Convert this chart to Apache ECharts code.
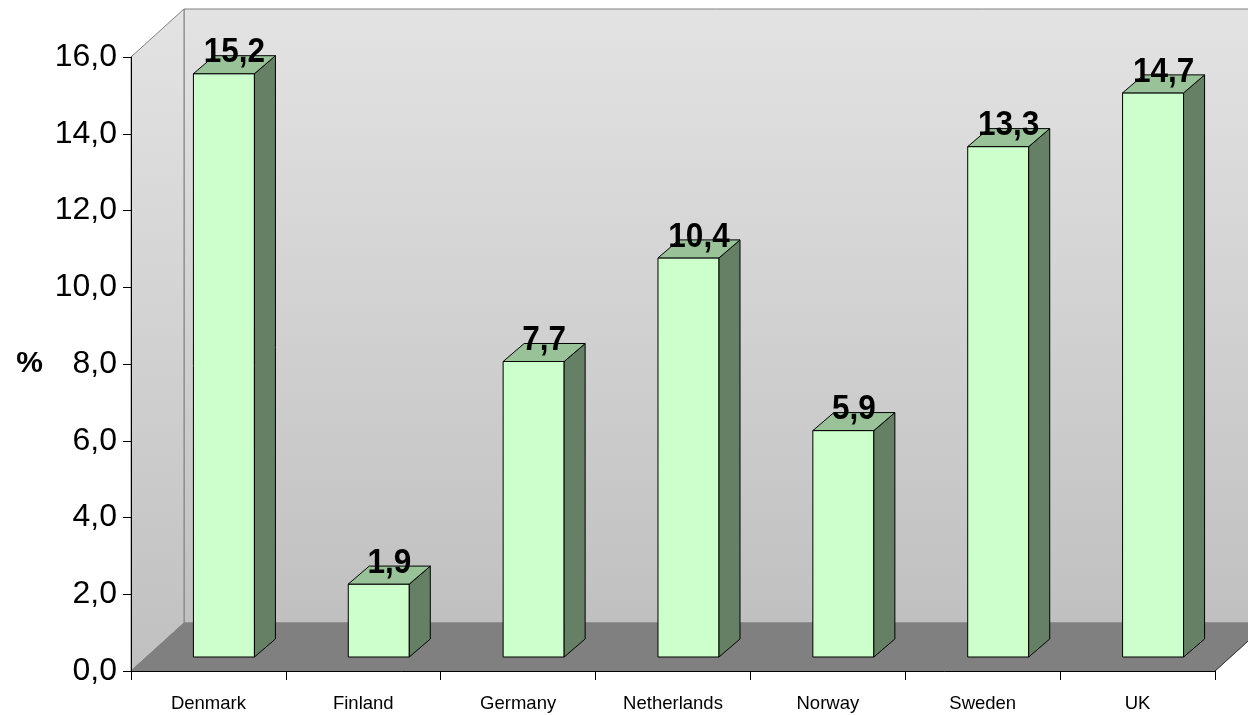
<!DOCTYPE html>
<html>
<head>
<meta charset="utf-8">
<script src="https://cdn.jsdelivr.net/npm/echarts@6/dist/echarts.min.js"></script>
<style>
html,body{margin:0;padding:0;background:#ffffff;}
#chart{width:1248px;height:715px;}
</style>
</head>
<body>
<div id="chart"></div>
<script>
// ---- data ----
const categories = ['Denmark', 'Finland', 'Germany', 'Netherlands', 'Norway', 'Sweden', 'UK'];
const values = [15.2, 1.9, 7.7, 10.4, 5.9, 13.3, 14.7];
const yTicks = { min: 0, max: 16, interval: 2 };
const axisName = '%';

const FONT = '"Liberation Sans", Arial, sans-serif';
const fmt = v => v.toFixed(1).replace('.', ',');

// 3D geometry (pixels)
const DEPTH = [53, -48];      // plot depth offset
const BAR_OFF = [15.5, -14];  // bar front plane offset from plot front
const BAR_DEPTH = [21, -18];  // bar depth
const BAR_W = 0.394;          // fraction of category band

const chart = echarts.init(document.getElementById('chart'), null, { renderer: 'canvas' });

function renderWalls(params, api) {
  const cs = params.coordSys;
  const x0 = cs.x, x1 = cs.x + cs.width, yT = cs.y, yB = cs.y + cs.height;
  const dx = DEPTH[0], dy = DEPTH[1];
  const grad = {
    type: 'linear', x: 0, y: 0, x2: 0, y2: 1,
    colorStops: [{ offset: 0, color: '#e3e3e3' }, { offset: 1, color: '#c0c0c0' }]
  };
  return {
    type: 'group',
    children: [
      { type: 'rect', shape: { x: x0 + dx, y: yT + dy, width: cs.width, height: cs.height },
        style: { fill: grad, stroke: '#808080', lineWidth: 1 } },
      { type: 'polygon', shape: { points: [[x0, yT], [x0 + dx, yT + dy], [x0 + dx, yB + dy], [x0, yB]] },
        style: { fill: grad, stroke: '#808080', lineWidth: 1 } },
      { type: 'polygon', shape: { points: [[x0, yB], [x0 + dx, yB + dy], [x1 + dx, yB + dy], [x1, yB]] },
        style: { fill: '#808080', stroke: '#808080', lineWidth: 1 } },
      { type: 'line', shape: { x1: x1, y1: yB, x2: x1 + dx, y2: yB + dy },
        style: { stroke: '#303030', lineWidth: 1 } }
    ]
  };
}

function renderBar(params, api) {
  const i = api.value(0), v = api.value(1);
  const base = api.coord([i, 0]);
  const top = api.coord([i, v]);
  const band = api.size([1, 0])[0];
  const w = band * BAR_W;
  const cx = base[0] + BAR_OFF[0];
  const xl = cx - w / 2, xr = cx + w / 2;
  const yb = base[1] + BAR_OFF[1], yt = top[1] + BAR_OFF[1];
  const bx = BAR_DEPTH[0], by = BAR_DEPTH[1];
  const edge = { stroke: '#000000', lineWidth: 1 };
  return {
    type: 'group',
    children: [
      { type: 'polygon', shape: { points: [[xl, yt], [xr, yt], [xr, yb], [xl, yb]] },
        style: Object.assign({ fill: '#ccffcc' }, edge) },
      { type: 'polygon', shape: { points: [[xr, yt], [xr + bx, yt + by], [xr + bx, yb + by], [xr, yb]] },
        style: Object.assign({ fill: '#668066' }, edge) },
      { type: 'polygon', shape: { points: [[xl, yt], [xr, yt], [xr + bx, yt + by], [xl + bx, yt + by]] },
        style: Object.assign({ fill: '#99c299' }, edge) },
      { type: 'text', x: cx + bx / 2, y: yt + by / 2 - 12, scaleX: 0.9,
        style: { text: fmt(v), x: 0, y: 0, align: 'center', verticalAlign: 'middle',
                 fill: '#000000', font: 'bold 35px ' + FONT } }
    ]
  };
}

chart.setOption({
  animation: false,
  backgroundColor: '#ffffff',
  grid: { left: 131, right: 33, top: 57, bottom: 44 },
  xAxis: {
    type: 'category',
    data: categories,
    boundaryGap: true,
    axisLine: { show: true, lineStyle: { color: '#000000', width: 1 } },
    axisTick: { show: true, length: 9, alignWithLabel: false, lineStyle: { color: '#000000' } },
    axisLabel: { fontSize: 18.5, color: '#000000', fontFamily: FONT, margin: 23 },
    splitLine: { show: false }
  },
  yAxis: {
    type: 'value',
    min: yTicks.min, max: yTicks.max, interval: yTicks.interval,
    name: axisName,
    nameLocation: 'middle',
    nameRotate: 0,
    nameGap: 88,
    nameTextStyle: { fontSize: 30, fontWeight: 'bold', color: '#000000', fontFamily: FONT },
    axisLine: { show: true, lineStyle: { color: '#000000', width: 1 } },
    axisTick: { show: true, length: 8, lineStyle: { color: '#000000' } },
    axisLabel: { fontSize: 32, color: '#000000', fontFamily: FONT, margin: 14, formatter: fmt },
    splitLine: { show: false }
  },
  series: [
    { type: 'custom', name: 'walls', z: -10, silent: true,
      coordinateSystem: 'cartesian2d', renderItem: renderWalls, data: [[0, 0]] },
    { type: 'custom', name: 'bars', z: 5,
      coordinateSystem: 'cartesian2d', renderItem: renderBar,
      data: values.map((v, i) => [i, v]) }
  ]
});
</script>
</body>
</html>
